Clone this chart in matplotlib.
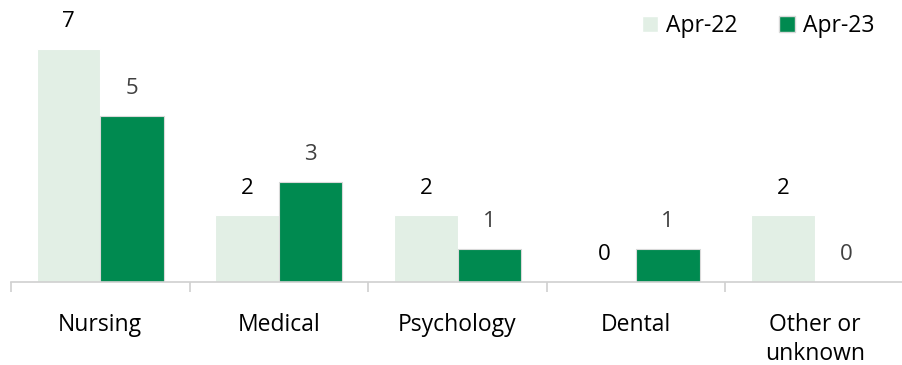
import numpy as np
import matplotlib.pyplot as plt
from matplotlib.patches import Patch

categories = ["Nursing", "Medical", "Psychology", "Dental", "Other or\nunknown"]
apr22 = [7, 2, 2, 0, 2]
apr23 = [5, 3, 1, 1, 0]

light = "#e2efe5"
dark = "#008a50"

plt.rcParams['font.family'] = ['Open Sans', 'DejaVu Sans']

fig = plt.figure(figsize=(9.02, 3.65), dpi=100)
ax = fig.add_axes([11 / 902, 83 / 365, 893 / 902, 282 / 365])

x = np.arange(len(categories))
w = 0.355
b1 = ax.bar(x - w / 2, apr22, w, color=light, edgecolor="white", linewidth=0.8, label="Apr-22")
b2 = ax.bar(x + w / 2, apr23, w, color=dark, edgecolor="#d9d9d9", linewidth=0.8, label="Apr-23")

for r, v in zip(b1, apr22):
    ax.text(r.get_x() + r.get_width() / 2, v + 0.5, str(v), ha="center", va="bottom",
            fontsize=16, color="#000000")
for r, v in zip(b2, apr23):
    ax.text(r.get_x() + r.get_width() / 2, v + 0.5, str(v), ha="center", va="bottom",
            fontsize=16, color="#404040")

ax.set_xlim(-0.5, 4.5)
ax.set_ylim(0, 8.47)
ax.set_yticks([])
for s in ["top", "right", "left"]:
    ax.spines[s].set_visible(False)
ax.spines["bottom"].set_color("#d0d0d0")
ax.spines["bottom"].set_linewidth(1.2)

ax.set_xticks(np.arange(-0.5, 5, 1), minor=False)
ax.set_xticklabels([])
ax.tick_params(axis="x", length=7, color="#d0d0d0", width=1.2)
ax.set_xticks(x, minor=True)
ax.set_xticklabels(categories, minor=True, fontsize=16.5, linespacing=1.3)
ax.tick_params(axis="x", which="minor", length=0, pad=22)
for t in ax.get_xticklabels(minor=True):
    t.set_verticalalignment("top")

handles = [Patch(facecolor=light, edgecolor="white"), Patch(facecolor=dark, edgecolor="#d9d9d9")]
ax.legend(handles, ["Apr-22", "Apr-23"], loc="upper right", bbox_to_anchor=(0.99, 1.025),
          ncol=2, frameon=False, fontsize=16.5, handlelength=0.7, handleheight=0.7,
          handletextpad=0.35, columnspacing=1.8)

fig.savefig("out.png", dpi=100)
